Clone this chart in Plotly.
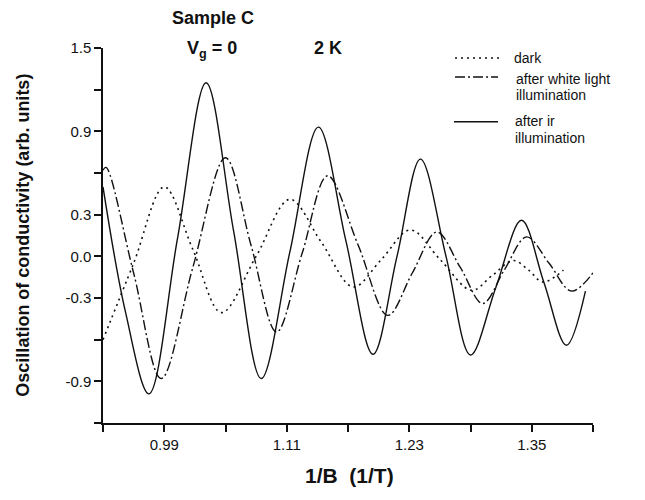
import plotly.graph_objects as go

# ---- data ----
ir_x = [0.930, 0.952, 0.975, 1.003, 1.031, 1.058, 1.085, 1.113, 1.141, 1.168,
        1.1945, 1.218, 1.241, 1.266, 1.290, 1.315, 1.340, 1.362, 1.384, 1.4026]
ir_y = [0.50, -0.40, -0.99, 0.13, 1.25, 0.18, -0.88, 0.03, 0.93, 0.11,
        -0.705, 0.0, 0.70, 0.0, -0.71, -0.22, 0.26, -0.19, -0.64, -0.25]

white_x = [0.930, 0.933, 0.960, 0.987, 1.018, 1.050, 1.075, 1.100, 1.125, 1.150,
           1.180, 1.209, 1.233, 1.257, 1.280, 1.302, 1.323, 1.345, 1.367, 1.389, 1.413]
white_y = [0.62, 0.64, -0.12, -0.88, -0.08, 0.71, 0.08, -0.545, 0.02, 0.58,
           0.08, -0.425, -0.12, 0.175, -0.08, -0.34, -0.10, 0.14, -0.05, -0.25, -0.09]

dark_x = [0.930, 0.960, 0.990, 1.018, 1.046, 1.080, 1.113, 1.144, 1.175, 1.203,
          1.231, 1.261, 1.291, 1.311, 1.332, 1.347, 1.361, 1.381]
dark_y = [-0.60, -0.05, 0.50, 0.05, -0.405, 0.0, 0.41, 0.10, -0.22, -0.02,
          0.19, -0.03, -0.245, -0.14, -0.03, -0.10, -0.185, -0.10]

x_ticks = [0.99, 1.11, 1.23, 1.35]
x_ticktext = ["0.99", "1.11", "1.23", "1.35"]
y_ticks = [-0.9, -0.3, 0.0, 0.3, 0.9, 1.5]
y_ticktext = ["-0.9", "-0.3", "0.0", "0.3", "0.9", "1.5"]

legend_lines = [["dark"], ["after white light", "illumination"], ["after ir", "illumination"]]

INK = "#111111"
FONT = "Liberation Sans, Arial, sans-serif"
DASHES = ["2px,4px", "10px,3px,2px,3px", "solid"]
WIDTHS = [1.6, 1.4, 1.4]

fig = go.Figure()
for xs, ys, dash, w in [(dark_x, dark_y, DASHES[0], WIDTHS[0]),
                        (white_x, white_y, DASHES[1], WIDTHS[1]),
                        (ir_x, ir_y, DASHES[2], WIDTHS[2])]:
    fig.add_trace(go.Scatter(x=xs, y=ys, mode="lines", showlegend=False,
                             line=dict(color=INK, width=w, dash=dash,
                                       shape="spline", smoothing=1.0)))

# manual legend (paper coordinates)
sample_pos = [(0.7184, 0.8102, 0.9733), (0.7184, 0.8061, 0.9227), (0.7163, 0.8061, 0.8035)]
text_pos = [[(0.8347, 0.9733)],
            [(0.8388, 0.9185), (0.8388, 0.8745)],
            [(0.8367, 0.8050), (0.8367, 0.7610)]]
shapes = []
annotations = []
for i in range(3):
    x0, x1, yy = sample_pos[i]
    shapes.append(dict(type="line", xref="paper", yref="paper", x0=x0, x1=x1, y0=yy, y1=yy,
                       line=dict(color=INK, width=WIDTHS[i], dash=DASHES[i])))
    for txt, (tx, ty) in zip(legend_lines[i], text_pos[i]):
        annotations.append(dict(text=txt, x=tx, y=ty, xref="paper", yref="paper",
                                xanchor="left", yanchor="middle", showarrow=False,
                                font=dict(size=14, family=FONT, color=INK)))

annotations += [
    dict(text="<b>Sample C</b>", x=0.2245, y=1.08, xref="paper", yref="paper",
         xanchor="center", yanchor="middle", showarrow=False,
         font=dict(size=18, family=FONT, color=INK)),
    dict(text="<b>V<sub>g</sub> = 0</b>", x=0.222, y=0.995, xref="paper", yref="paper",
         xanchor="center", yanchor="middle", showarrow=False,
         font=dict(size=18, family=FONT, color=INK)),
    dict(text="<b>2 K</b>", x=0.46, y=1.0, xref="paper", yref="paper",
         xanchor="center", yanchor="middle", showarrow=False,
         font=dict(size=18, family=FONT, color=INK)),
    dict(text="<b>Oscillation of conductivity (arb. units)</b>", x=-0.165, y=0.5,
         xref="paper", yref="paper", textangle=-90, xanchor="center", yanchor="middle",
         showarrow=False, font=dict(size=18, family=FONT, color=INK)),
    dict(text="<b>1/B  (1/T)</b>", x=0.504, y=-0.139, xref="paper", yref="paper",
         xanchor="center", yanchor="middle", showarrow=False,
         font=dict(size=21, family=FONT, color=INK)),
]

# page body has an 8px default margin; figure is sized to compensate
fig.update_layout(
    width=637, height=492,
    margin=dict(l=95, r=52, t=40, b=77),
    paper_bgcolor="white", plot_bgcolor="white",
    font=dict(family=FONT, color=INK, size=14),
    showlegend=False,
    shapes=shapes,
    annotations=annotations,
    xaxis=dict(range=[0.93, 1.41], tickvals=x_ticks, ticktext=x_ticktext,
               showline=True, linecolor=INK, linewidth=1.5, ticks="outside",
               ticklen=7, tickcolor=INK, tickwidth=1.5, showgrid=False, zeroline=False,
               minor=dict(tick0=0.93, dtick=0.06, ticks="outside", ticklen=7,
                          tickcolor=INK, tickwidth=1.5, showgrid=False),
               tickfont=dict(size=15, family=FONT, color=INK)),
    yaxis=dict(range=[-1.2, 1.5], tickvals=y_ticks, ticktext=y_ticktext,
               showline=True, linecolor=INK, linewidth=1.5, ticks="outside",
               ticklen=7, tickcolor=INK, tickwidth=1.5, showgrid=False, zeroline=False,
               minor=dict(tick0=0.0, dtick=0.3, ticks="outside", ticklen=7,
                          tickcolor=INK, tickwidth=1.5, showgrid=False),
               tickfont=dict(size=15, family=FONT, color=INK)),
)

fig.write_html("out.html")
